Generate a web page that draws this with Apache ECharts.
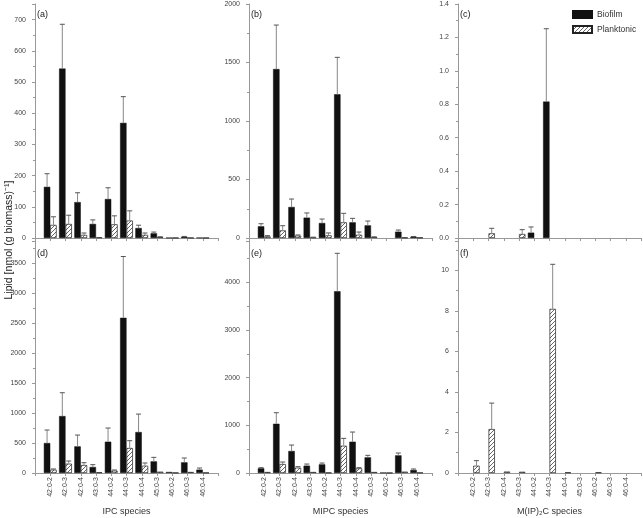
<!DOCTYPE html>
<html>
<head>
<meta charset="utf-8">
<script src="https://cdn.jsdelivr.net/npm/echarts@6/dist/echarts.min.js"></script>
<style>
html,body{margin:0;padding:0;background:#fff;}
#chart{width:643px;height:518px;}
</style>
</head>
<body>
<div id="chart"></div>
<script>
// ---- Data ----
const categories = ['42:0-2','42:0-3','42:0-4','43:0-3','44:0-2','44:0-3','44:0-4','45:0-3','46:0-2','46:0-3','46:0-4'];

// (a) IPC, top row
const ipcBiofilmA      = [164, 543, 115, 45, 125, 369, 32, 15, 0.5, 4, 1];
const ipcBiofilmA_sd   = [42, 142, 30, 13, 36, 84, 9, 4, 0, 1, 0];
const ipcPlanktonicA   = [42, 45, 10, 2, 44, 56, 10, 3, 0.5, 0.5, 0.3];
const ipcPlanktonicA_sd= [26, 28, 6, 0, 27, 31, 6, 1, 0, 0, 0];

// (b) MIPC, top row
const mipcBiofilmB      = [100, 1444, 265, 174, 128, 1228, 134, 108, 0, 54, 11];
const mipcBiofilmB_sd   = [22, 376, 68, 40, 34, 316, 34, 37, 0, 14, 2];
const mipcPlanktonicB   = [14, 65, 20, 5, 23, 134, 28, 8, 0, 3, 3];
const mipcPlanktonicB_sd= [6, 40, 6, 2, 20, 77, 23, 2, 0, 1, 1];

// (c) M(IP)2C, top row
const m2Biofilm_C      = [0, 0, 0, 0, 0.032, 0.816, 0, 0, 0, 0, 0];
const m2Biofilm_C_sd   = [0, 0, 0, 0, 0.034, 0.436, 0, 0, 0, 0, 0];
const m2Planktonic_C   = [0, 0.028, 0, 0.024, 0, 0, 0, 0, 0, 0, 0];
const m2Planktonic_C_sd= [0, 0.030, 0, 0.026, 0, 0, 0, 0, 0, 0, 0];

// (d) IPC, bottom row
const ipcBiofilmD      = [500, 950, 444, 100, 522, 2589, 683, 194, 17, 178, 56];
const ipcBiofilmD_sd   = [217, 389, 189, 39, 228, 1022, 300, 67, 0, 72, 27];
const ipcPlanktonicD   = [56, 156, 133, 11, 39, 417, 122, 22, 5, 17, 5];
const ipcPlanktonicD_sd= [11, 44, 39, 0, 11, 122, 45, 0, 0, 0, 0];

// (e) MIPC, bottom row
const mipcBiofilmE      = [98, 1033, 461, 154, 181, 3811, 656, 328, 7, 370, 63];
const mipcBiofilmE_sd   = [14, 231, 125, 34, 28, 796, 203, 42, 0, 49, 21];
const mipcPlanktonicE   = [21, 188, 112, 21, 7, 572, 98, 21, 2, 28, 7];
const mipcPlanktonicE_sd= [0, 42, 21, 0, 0, 154, 14, 0, 0, 0, 0];

// (f) M(IP)2C, bottom row
const m2Biofilm_F      = [0, 0, 0, 0, 0, 0, 0, 0, 0, 0, 0];
const m2Biofilm_F_sd   = [0, 0, 0, 0, 0, 0, 0, 0, 0, 0, 0];
const m2Planktonic_F   = [0.36, 2.17, 0.07, 0.06, 0, 8.1, 0.03, 0, 0.03, 0, 0];
const m2Planktonic_F_sd= [0.25, 1.28, 0, 0, 0, 2.2, 0, 0, 0, 0, 0];

const panelLabels = ['(a)','(b)','(c)','(d)','(e)','(f)'];
const xAxisNames = ['IPC species','MIPC species','M(IP)\u2082C species'];
const yAxisTitle = 'Lipid [nmol (g biomass)\u207B\u00B9]';

// ---- Layout ----
const FONT = 'Liberation Sans, Arial, sans-serif';
const lefts = [35, 249, 458];
const gridW = 183;
const rows = [{top: 4, bottom: 280}, {top: 241, bottom: 45}];
const yCfg = [
  {max: 750, interval: 100, hideMax: true},
  {max: 2000, interval: 500, hideMax: false},
  {max: 1.4, interval: 0.2, hideMax: false, fixed: 1},
  {max: 3870, interval: 500, hideMax: true},
  {max: 4865, interval: 1000, hideMax: true},
  {max: 11.45, interval: 2, hideMax: true}
];
const panelData = [
  [ipcBiofilmA, ipcBiofilmA_sd, ipcPlanktonicA, ipcPlanktonicA_sd],
  [mipcBiofilmB, mipcBiofilmB_sd, mipcPlanktonicB, mipcPlanktonicB_sd],
  [m2Biofilm_C, m2Biofilm_C_sd, m2Planktonic_C, m2Planktonic_C_sd],
  [ipcBiofilmD, ipcBiofilmD_sd, ipcPlanktonicD, ipcPlanktonicD_sd],
  [mipcBiofilmE, mipcBiofilmE_sd, mipcPlanktonicE, mipcPlanktonicE_sd],
  [m2Biofilm_F, m2Biofilm_F_sd, m2Planktonic_F, m2Planktonic_F_sd]
];

function hatch() {
  const c = document.createElement('canvas');
  c.width = 4; c.height = 4;
  const ctx = c.getContext('2d');
  ctx.fillStyle = '#fff';
  ctx.fillRect(0, 0, 4, 4);
  ctx.strokeStyle = '#222';
  ctx.lineWidth = 0.7;
  ctx.beginPath();
  ctx.moveTo(0, 4); ctx.lineTo(4, 0);
  ctx.moveTo(-1, 1); ctx.lineTo(1, -1);
  ctx.moveTo(3, 5); ctx.lineTo(5, 3);
  ctx.stroke();
  return c;
}
const hatchPattern = {image: hatch(), repeat: 'repeat'};

const paddedCats = [''].concat(categories, ['']);
function pad(arr) { return ['-'].concat(arr.map(v => (v > 0 ? v : '-')), ['-']); }
function errData(mean, sd) {
  const out = [];
  mean.forEach((m, i) => { if (sd[i] > 0) out.push([i + 1, m, m + sd[i]]); });
  return out;
}
function errRender(sign) {
  return function (params, api) {
    const idx = api.value(0), v = api.value(1), u = api.value(2);
    const p1 = api.coord([idx, v]);
    const p2 = api.coord([idx, u]);
    const bw = api.size([1, 0])[0];
    const x = p1[0] + sign * bw * 0.21;
    return {
      type: 'group',
      children: [
        {type: 'line', shape: {x1: x, y1: p1[1], x2: x, y2: p2[1]}, style: {stroke: '#888', lineWidth: 1}},
        {type: 'line', shape: {x1: x - 2.5, y1: p2[1], x2: x + 2.5, y2: p2[1]}, style: {stroke: '#555', lineWidth: 1}}
      ]
    };
  };
}

const grid = [], xAxis = [], yAxis = [], series = [], graphic = [];
for (let p = 0; p < 6; p++) {
  const r = Math.floor(p / 3), c = p % 3;
  grid.push({left: lefts[c], width: gridW, top: rows[r].top, bottom: rows[r].bottom, containLabel: false});
  const bottomRow = r === 1;
  xAxis.push({
    type: 'category', gridIndex: p, data: paddedCats, boundaryGap: false,
    axisLine: {lineStyle: {color: '#999', width: 1}},
    axisTick: {show: true, length: 3, interval: 0, lineStyle: {color: '#999'}},
    axisLabel: {show: bottomRow, interval: 0, rotate: 90, fontSize: 7, color: '#444', margin: 4, fontFamily: FONT},
    name: bottomRow ? xAxisNames[c] : '',
    nameLocation: 'middle', nameGap: 34,
    nameTextStyle: {fontSize: 9, color: '#333', fontFamily: FONT}
  });
  const yc = yCfg[p];
  yAxis.push({
    type: 'value', gridIndex: p, min: 0, max: yc.max, interval: yc.interval,
    axisLine: {show: true, lineStyle: {color: '#999', width: 1}},
    axisTick: {show: true, length: 3, lineStyle: {color: '#999'}},
    minorTick: {show: true, splitNumber: 2, length: 2, lineStyle: {color: '#999'}},
    splitLine: {show: false},
    axisLabel: {
      fontSize: 7, color: '#444', margin: 9, fontFamily: FONT, showMaxLabel: !yc.hideMax,
      formatter: yc.fixed ? (v => v.toFixed(yc.fixed)) : (v => String(v))
    }
  });
  const d = panelData[p];
  series.push({
    name: 'Biofilm', type: 'bar', xAxisIndex: p, yAxisIndex: p, data: pad(d[0]),
    barWidth: '42%', barGap: '0%',
    itemStyle: {color: '#111', borderColor: '#111', borderWidth: 0.5}
  });
  series.push({
    name: 'Planktonic', type: 'bar', xAxisIndex: p, yAxisIndex: p, data: pad(d[2]),
    barWidth: '42%', barGap: '0%',
    itemStyle: {color: hatchPattern, borderColor: '#222', borderWidth: 0.7}
  });
  series.push({
    type: 'custom', xAxisIndex: p, yAxisIndex: p, z: 5, silent: true,
    renderItem: errRender(-1), data: errData(d[0], d[1])
  });
  series.push({
    type: 'custom', xAxisIndex: p, yAxisIndex: p, z: 5, silent: true,
    renderItem: errRender(1), data: errData(d[2], d[3])
  });
  graphic.push({
    type: 'text', left: lefts[c] + 2, top: r === 0 ? 10 : 249,
    style: {text: panelLabels[p], font: '9px ' + FONT, fill: '#222'}
  });
}
graphic.push({
  type: 'text', x: 9, y: 240, rotation: Math.PI / 2,
  style: {text: yAxisTitle, font: '10.5px ' + FONT, fill: '#222', align: 'center', verticalAlign: 'middle'}
});

const chart = echarts.init(document.getElementById('chart'), null, {renderer: 'canvas'});
chart.setOption({
  animation: false,
  backgroundColor: '#fff',
  grid, xAxis, yAxis, series, graphic,
  legend: {
    data: ['Biofilm', 'Planktonic'], orient: 'vertical', left: 572, top: 10, padding: 0,
    itemWidth: 19, itemHeight: 7, itemGap: 6, icon: 'rect',
    textStyle: {fontSize: 8.5, color: '#333', fontFamily: FONT}
  }
});
</script>
</body>
</html>
